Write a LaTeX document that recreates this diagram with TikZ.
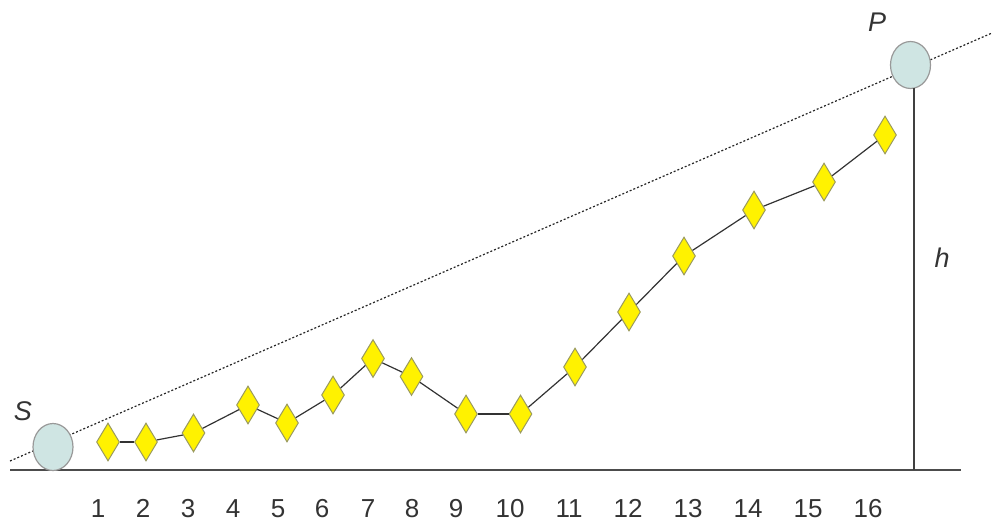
\documentclass[tikz,border=0pt]{standalone}
\usepackage{fontspec}
\setmainfont{Liberation Sans}
\usetikzlibrary{shapes.geometric}
\definecolor{ballfill}{HTML}{CFE5E3}
\definecolor{ballline}{HTML}{999999}
\definecolor{dmline}{HTML}{9A9A60}
\definecolor{txt}{HTML}{333333}
\tikzset{
  dm/.style={diamond, draw=dmline, fill=yellow, line width=1pt, minimum width=23pt, minimum height=38pt, inner sep=0pt},
  ball/.style={ellipse, draw=ballline, fill=ballfill, line width=1.2pt, minimum width=40pt, minimum height=47pt, inner sep=0pt},
  conn/.style={draw=black!80, line width=1.2pt},
  num/.style={text=txt, font=\fontsize{26}{30}\selectfont, inner sep=0pt, anchor=base},
  lab/.style={text=txt, font=\fontsize{27}{30}\selectfont\itshape, inner sep=0pt}
}
\begin{document}
\begin{tikzpicture}[x=1pt,y=-1pt]
\useasboundingbox (0,0) rectangle (1000,530);
% ground
\coordinate (gl) at (10,470);
\coordinate (gr) at (961,470);
\draw[draw=black!70, line width=2pt] (gl) -- (gr);
% dotted line
\coordinate (dl) at (10,461);
\coordinate (dr) at (992,33);
\draw[black!85, line width=1.2pt, dash pattern=on 2pt off 2pt] (dl) -- (dr);
% h line
\coordinate (hb) at (914,470);
\node[ball] (P) at (910.5,65) {};
\draw[black!75, line width=1.5pt] (914,88) -- (hb);
\node[ball] (S) at (53,447) {};
% diamonds
\node[dm] (d1) at (108,442) {};
\node[dm] (d2) at (146,442) {};
\node[dm] (d3) at (193.5,433) {};
\node[dm] (d4) at (248,405) {};
\node[dm] (d5) at (287,423) {};
\node[dm] (d6) at (333,395) {};
\node[dm] (d7) at (373,358.5) {};
\node[dm] (d8) at (411.5,376.5) {};
\node[dm] (d9) at (466,414) {};
\node[dm] (d10) at (520.5,414) {};
\node[dm] (d11) at (575,367) {};
\node[dm] (d12) at (629,312) {};
\node[dm] (d13) at (684,256) {};
\node[dm] (d14) at (754,210) {};
\node[dm] (d15) at (824,182) {};
\node[dm] (d16) at (885,135) {};
\foreach \a/\b in {d1/d2,d2/d3,d3/d4,d4/d5,d5/d6,d6/d7,d7/d8,d8/d9,d9/d10,d10/d11,d11/d12,d12/d13,d13/d14,d14/d15,d15/d16}
  \draw[conn] (\a) -- (\b);
% numbers
\foreach \n/\x in {1/98,2/143,3/188,4/233,5/278,6/322,7/368,8/412,9/456,10/510,11/569,12/628,13/688,14/748,15/808,16/868}
  \node[num] (n\n) at (\x,517) {\n};
% labels
\node[lab] (lS) at (23,411) {S};
\node[lab] (lP) at (877,22) {P};
\node[lab] (lh) at (942,258) {h};
\end{tikzpicture}
\end{document}
